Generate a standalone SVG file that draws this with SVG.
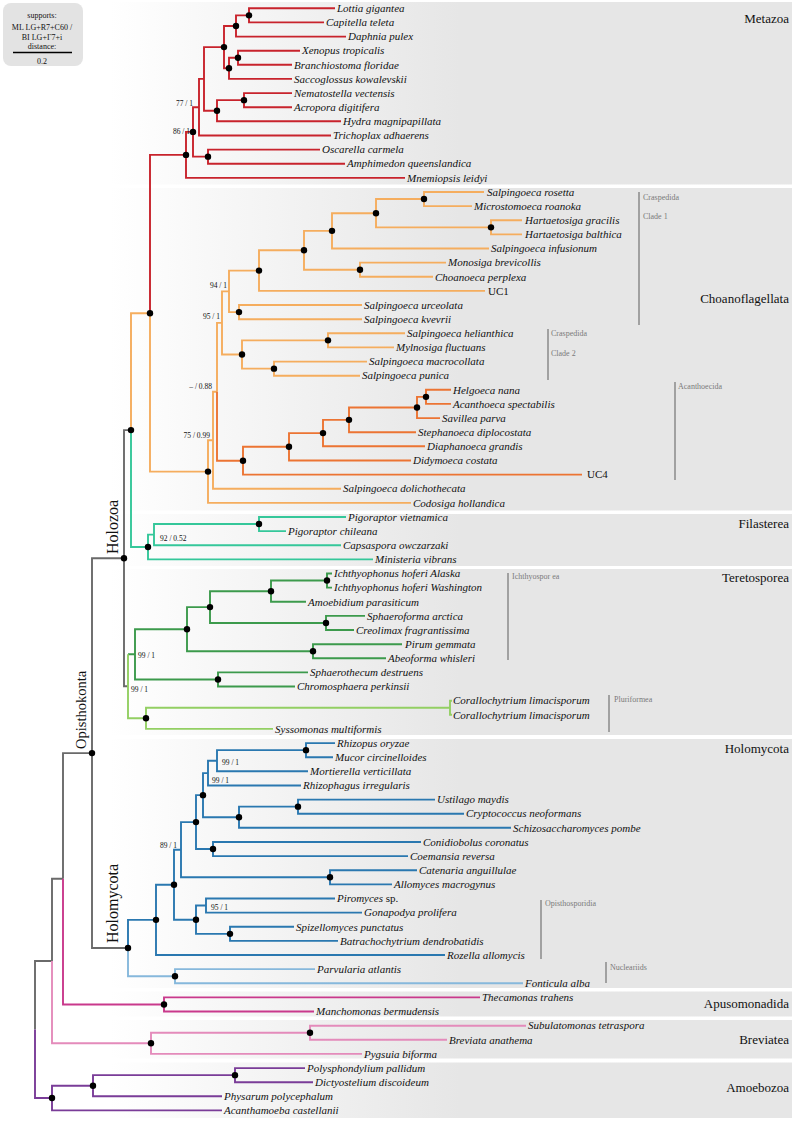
<svg xmlns="http://www.w3.org/2000/svg" width="795" height="1122" viewBox="0 0 795 1122">
<defs>
<linearGradient id="bg" gradientUnits="userSpaceOnUse" x1="110" y1="0" x2="460" y2="0">
<stop offset="0" stop-color="#ffffff"/>
<stop offset="1" stop-color="#e6e6e6"/>
</linearGradient>
</defs>
<style>
.pn{fill:url(#bg)}
.br{fill:none;stroke-width:1.9;stroke-linejoin:miter}
.red{stroke:#c8232c}.or{stroke:#f5ad5e}.dor{stroke:#ec7433}.teal{stroke:#35c79a}
.gry{stroke:#6a6a6a}.dg{stroke:#3c9a4c}.lg{stroke:#93cf63}.blu{stroke:#2a78b0}
.lbl{stroke:#86b8dc}.mag{stroke:#c9398c}.pk{stroke:#e48bbb}.pur{stroke:#7a3c98}
.dot{fill:#000}
text{font-family:"Liberation Serif","Times New Roman",serif;fill:#111}
.tip{font-size:11px;font-style:italic}
.up{font-style:normal}
.sup{font-size:7.5px;fill:#333}
.cl{font-size:13px;text-anchor:end}
.big{font-size:16px}
.bar{stroke:#8a8a8a;stroke-width:1.5}
.bl{font-size:8px;fill:#7a7a7a}
.lg1{font-size:8px;text-anchor:middle}
</style>
<rect width="795" height="1122" fill="#ffffff"/>
<g id="panels">
<rect class="pn" x="100" y="2" width="692" height="182.5"/>
<rect class="pn" x="100" y="188" width="692" height="322.5"/>
<rect class="pn" x="100" y="514" width="692" height="52"/>
<rect class="pn" x="100" y="569" width="692" height="166"/>
<rect class="pn" x="100" y="739" width="692" height="249"/>
<rect class="pn" x="100" y="991.5" width="692" height="25"/>
<rect class="pn" x="100" y="1020" width="692" height="38.5"/>
<rect class="pn" x="100" y="1062.5" width="692" height="55.5"/>
</g>
<g id="legend">
<rect x="3" y="3" width="80" height="63" rx="8" fill="#e3e3e3"/>
<text class="lg1" x="42" y="18">supports:</text>
<text class="lg1" x="42" y="30">ML LG+R7+C60 /</text>
<text class="lg1" x="42" y="39.5">BI LG+Γ7+i</text>
<text class="lg1" x="42" y="48.5">distance:</text>
<line x1="13" y1="52.5" x2="72" y2="52.5" stroke="#000" stroke-width="1.5"/>
<text class="lg1" x="42" y="64">0.2</text>
</g>
<g id="connectors">
<path class="br red" d="M186 154.9H150V313.25 M193 131.9H186V177.9H405 M199 107.2H193V156.65H208 M320 149.6H208V163.7H345 M204 78.9H199V135.5H331 M224 47.1H204V110.7H217 M244 100.15H217V121.3H341 M292 93.1H244V107.2H292 M236 25.98H224V68.3H229 M249 15.35H236V36.6H346 M335 8.3H249V22.4H324 M238 57.75H229V78.9H292 M300 50.7H238V64.8H292"/>
<path class="br or" d="M150 313.25V471.6H208 M150 313.25H131V430.1 M213 440.25H208V502.9H411 M217 391.8H213V488.7H341 M222 322.9H217V391.8 M229 291.35H222V354.5H242 M328 340.35H242V368.65H274 M405 333.3H328V347.4H394 M367 361.6H274V375.7H360 M259 270.6H229V312.1H239 M362 305H239V319.2H362 M304 250.3H259V290.9H485 M332 230.85H304V269.7H360 M446 262.6H360V276.8H433 M376 213.2H332V248.5H489 M424 199.05H376V227.35H491 M484 192H424V206.1H472 M522 220.3H491V234.4H522"/>
<path class="br dor" d="M217 391.8V460.7H243 M289 446.8H243V474.6H582 M323 433.1H289V460.5H411 M349 419.85H323V446.3H425 M417 407.5H349V432.2H416 M426 396.85H417V418.1H440 M451 389.8H426V403.9H451"/>
<path class="br teal" d="M131 430.1V547H148 M154 534.6H148V559.4H373 M259 524.05H154V545.2H341 M346 517H259V531.1H286"/>
<path class="br gry" d="M131 430.1H124V686.3H128 M124 558.2H92V948H128 M92 753.1H63V878.8 M63 878.8H52V961.05 M52 961.05H35V1029.55"/>
<path class="br dg" d="M128 654.3H135 M187 629.2H135V679.45H218 M210 607.1H187V651.25H313 M271 591.2H210V622.95H326 M327 580.55H271V601.8H306 M332 573.5H327V587.6H332 M365 615.9H326V630H354 M402 644.2H313V658.3H386 M308 672.4H218V686.5H295"/>
<path class="br lg" d="M128 654.3V718.3H146 M450 707.75H146V728.9H273 M452 700.7H450V714.8H452"/>
<path class="br blu" d="M128 948V919.85H156 M174 884.7H156V955H445 M181 849.7H174V919.7H196 M196 822.1H181V877.3H330 M203 795.15H196V849.05H213 M208 773.1H203V817.2H239 M217 760.7H208V785.5H301 M306 750.15H217V771.3H308 M335 743.1H306V757.2H333 M298 806.65H239V827.8H511 M435 799.6H298V813.7H464 M421 842H213V856.1H408 M417 870.2H330V884.4H392 M206 905.55H196V933.85H230 M335 898.5H206V912.6H362 M294 926.8H230V940.9H338"/>
<path class="br lbl" d="M128 948V976.2H175 M315 969.1H175V983.3H523"/>
<path class="br mag" d="M63 878.8V1004.45H164 M480 997.4H164V1011.5H314"/>
<path class="br pk" d="M52 961.05V1043.3H151 M310 1032.75H151V1053.9H362 M526 1025.7H310V1039.8H447"/>
<path class="br pur" d="M35 1029.55V1098.05H52 M93 1085.7H52V1110.4H222 M235 1075.15H93V1096.3H222 M305 1068.1H235V1082.2H313"/>
</g>
<g id="internal-nodes" class="dot">
<circle id="n-LC" cx="249" cy="15.35" r="3.2"/>
<circle id="n-LCD" cx="236" cy="25.98" r="3.2"/>
<circle id="n-Bil" cx="224" cy="47.1" r="3.2"/>
<circle id="n-XB" cx="238" cy="57.75" r="3.2"/>
<circle id="n-Deut" cx="229" cy="68.3" r="3.2"/>
<circle id="n-NA" cx="244" cy="100.15" r="3.2"/>
<circle id="n-Cni" cx="217" cy="110.7" r="3.2"/>
<circle id="n-M2" cx="193" cy="131.9" r="3.2"/>
<circle id="n-Met" cx="186" cy="154.9" r="3.2"/>
<circle id="n-Sp" cx="208" cy="156.65" r="3.2"/>
<circle id="n-Choanozoa" cx="150" cy="313.25" r="3.2"/>
<circle id="n-RM" cx="424" cy="199.05" r="3.2"/>
<circle id="n-H" cx="491" cy="227.35" r="3.2"/>
<circle id="n-RMH" cx="376" cy="213.2" r="3.2"/>
<circle id="n-A" cx="332" cy="230.85" r="3.2"/>
<circle id="n-MC" cx="360" cy="269.7" r="3.2"/>
<circle id="n-B" cx="304" cy="250.3" r="3.2"/>
<circle id="n-C" cx="259" cy="270.6" r="3.2"/>
<circle id="n-UK" cx="239" cy="312.1" r="3.2"/>
<circle id="n-HM" cx="328" cy="340.35" r="3.2"/>
<circle id="n-MP" cx="274" cy="368.65" r="3.2"/>
<circle id="n-CL2" cx="242" cy="354.5" r="3.2"/>
<circle id="n-HA" cx="426" cy="396.85" r="3.2"/>
<circle id="n-S" cx="417" cy="407.5" r="3.2"/>
<circle id="n-St" cx="349" cy="419.85" r="3.2"/>
<circle id="n-D" cx="323" cy="433.1" r="3.2"/>
<circle id="n-Di" cx="289" cy="446.8" r="3.2"/>
<circle id="n-Ac" cx="243" cy="460.7" r="3.2"/>
<circle id="n-Cho" cx="208" cy="471.6" r="3.2"/>
<circle id="n-HolU" cx="131" cy="430.1" r="3.2"/>
<circle id="n-Pig" cx="259" cy="524.05" r="3.2"/>
<circle id="n-Fil" cx="148" cy="547" r="3.2"/>
<circle id="n-Holozoa" cx="124" cy="558.2" r="3.2"/>
<circle id="n-Ich" cx="327" cy="580.55" r="3.2"/>
<circle id="n-IA" cx="271" cy="591.2" r="3.2"/>
<circle id="n-SC" cx="326" cy="622.95" r="3.2"/>
<circle id="n-ISC" cx="210" cy="607.1" r="3.2"/>
<circle id="n-PA" cx="313" cy="651.25" r="3.2"/>
<circle id="n-I2" cx="187" cy="629.2" r="3.2"/>
<circle id="n-SCh" cx="218" cy="679.45" r="3.2"/>
<circle id="n-Plu" cx="146" cy="718.3" r="3.2"/>
<circle id="n-Opis" cx="92" cy="753.1" r="3.2"/>
<circle id="n-RM2" cx="306" cy="750.15" r="3.2"/>
<circle id="n-UC" cx="298" cy="806.65" r="3.2"/>
<circle id="n-Dik" cx="239" cy="817.2" r="3.2"/>
<circle id="n-F1" cx="203" cy="795.15" r="3.2"/>
<circle id="n-CC" cx="213" cy="849.05" r="3.2"/>
<circle id="n-F2" cx="196" cy="822.1" r="3.2"/>
<circle id="n-CA" cx="330" cy="877.3" r="3.2"/>
<circle id="n-SB" cx="230" cy="933.85" r="3.2"/>
<circle id="n-Chy" cx="196" cy="919.7" r="3.2"/>
<circle id="n-F3" cx="174" cy="884.7" r="3.2"/>
<circle id="n-Fungi" cx="156" cy="919.85" r="3.2"/>
<circle id="n-Nuc" cx="175" cy="976.2" r="3.2"/>
<circle id="n-Holomycota" cx="128" cy="948" r="3.2"/>
<circle id="n-Apu" cx="164" cy="1004.45" r="3.2"/>
<circle id="n-SBr" cx="310" cy="1032.75" r="3.2"/>
<circle id="n-Brev" cx="151" cy="1043.3" r="3.2"/>
<circle id="n-PD" cx="235" cy="1075.15" r="3.2"/>
<circle id="n-Myc" cx="93" cy="1085.7" r="3.2"/>
<circle id="n-Amo" cx="52" cy="1098.05" r="3.2"/>
</g>
<g id="supports" class="sup">
<text x="193" y="105.5" text-anchor="end">77 / 1</text>
<text x="190" y="133.5" text-anchor="end">86 / 1</text>
<text x="227" y="288" text-anchor="end">94 / 1</text>
<text x="220" y="319" text-anchor="end">95 / 1</text>
<text x="212" y="389" text-anchor="end">– / 0.88</text>
<text x="210" y="438" text-anchor="end">75 / 0.99</text>
<text x="160" y="540.5">92 / 0.52</text>
<text x="138" y="658">99 / 1</text>
<text x="131" y="692">99 / 1</text>
<text x="222" y="764.5">99 / 1</text>
<text x="212" y="783">99 / 1</text>
<text x="177" y="847.5" text-anchor="end">89 / 1</text>
<text x="211" y="910">95 / 1</text>
</g>
<g id="tips" class="tip">
<g id="t-lottia"><text x="337" y="12">Lottia gigantea</text></g>
<g id="t-capitella"><text x="326" y="26.1">Capitella teleta</text></g>
<g id="t-daphnia"><text x="348" y="40.3">Daphnia pulex</text></g>
<g id="t-xenopus"><text x="302" y="54.4">Xenopus tropicalis</text></g>
<g id="t-branchiostoma"><text x="294" y="68.5">Branchiostoma floridae</text></g>
<g id="t-saccoglossus"><text x="294" y="82.6">Saccoglossus kowalevskii</text></g>
<g id="t-nematostella"><text x="294" y="96.8">Nematostella vectensis</text></g>
<g id="t-acropora"><text x="294" y="110.9">Acropora digitifera</text></g>
<g id="t-hydra"><text x="343" y="125">Hydra magnipapillata</text></g>
<g id="t-trichoplax"><text x="333" y="139.2">Trichoplax adhaerens</text></g>
<g id="t-oscarella"><text x="322" y="153.3">Oscarella carmela</text></g>
<g id="t-amphimedon"><text x="347" y="167.4">Amphimedon queenslandica</text></g>
<g id="t-mnemiopsis"><text x="407" y="181.6">Mnemiopsis leidyi</text></g>
<g id="t-rosetta"><text x="487" y="195.7">Salpingoeca rosetta</text></g>
<g id="t-microstomoeca"><text x="474" y="209.8">Microstomoeca roanoka</text></g>
<g id="t-gracilis"><text x="525" y="224">Hartaetosiga gracilis</text></g>
<g id="t-balthica"><text x="525" y="238.1">Hartaetosiga balthica</text></g>
<g id="t-infusionum"><text x="491" y="252.2">Salpingoeca infusionum</text></g>
<g id="t-monosiga"><text x="448" y="266.3">Monosiga brevicollis</text></g>
<g id="t-choanoeca"><text x="435" y="280.5">Choanoeca perplexa</text></g>
<g id="t-uc1"><text class="up" x="488" y="294.6">UC1</text></g>
<g id="t-urceolata"><text x="364" y="308.7">Salpingoeca urceolata</text></g>
<g id="t-kvevrii"><text x="364" y="322.9">Salpingoeca kvevrii</text></g>
<g id="t-helianthica"><text x="407" y="337">Salpingoeca helianthica</text></g>
<g id="t-mylnosiga"><text x="396" y="351.1">Mylnosiga fluctuans</text></g>
<g id="t-macrocollata"><text x="369" y="365.3">Salpingoeca macrocollata</text></g>
<g id="t-punica"><text x="362" y="379.4">Salpingoeca punica</text></g>
<g id="t-helgoeca"><text x="453" y="393.5">Helgoeca nana</text></g>
<g id="t-acanthoeca"><text x="453" y="407.6">Acanthoeca spectabilis</text></g>
<g id="t-savillea"><text x="442" y="421.8">Savillea parva</text></g>
<g id="t-stephanoeca"><text x="418" y="435.9">Stephanoeca diplocostata</text></g>
<g id="t-diaphanoeca"><text x="427" y="450">Diaphanoeca grandis</text></g>
<g id="t-didymoeca"><text x="413" y="464.2">Didymoeca costata</text></g>
<g id="t-uc4"><text class="up" x="587" y="478.3">UC4</text></g>
<g id="t-dolichothecata"><text x="343" y="492.4">Salpingoeca dolichothecata</text></g>
<g id="t-codosiga"><text x="413" y="506.6">Codosiga hollandica</text></g>
<g id="t-pigv"><text x="348" y="520.7">Pigoraptor vietnamica</text></g>
<g id="t-pigc"><text x="288" y="534.8">Pigoraptor chileana</text></g>
<g id="t-capsaspora"><text x="343" y="548.9">Capsaspora owczarzaki</text></g>
<g id="t-ministeria"><text x="375" y="563.1">Ministeria vibrans</text></g>
<g id="t-ichA"><text x="334" y="577.2">Ichthyophonus hoferi Alaska</text></g>
<g id="t-ichW"><text x="334" y="591.3">Ichthyophonus hoferi Washington</text></g>
<g id="t-amoebidium"><text x="308" y="605.5">Amoebidium parasiticum</text></g>
<g id="t-sphaeroforma"><text x="367" y="619.6">Sphaeroforma arctica</text></g>
<g id="t-creolimax"><text x="356" y="633.7">Creolimax fragrantissima</text></g>
<g id="t-pirum"><text x="405" y="647.9">Pirum gemmata</text></g>
<g id="t-abeoforma"><text x="388" y="662">Abeoforma whisleri</text></g>
<g id="t-sphaerothecum"><text x="310" y="676.1">Sphaerothecum destruens</text></g>
<g id="t-chromosphaera"><text x="297" y="690.2">Chromosphaera perkinsii</text></g>
<g id="t-coral1"><text x="453" y="704.4">Corallochytrium limacisporum</text></g>
<g id="t-coral2"><text x="453" y="718.5">Corallochytrium limacisporum</text></g>
<g id="t-syssomonas"><text x="275" y="732.6">Syssomonas multiformis</text></g>
<g id="t-rhizopus"><text x="337" y="746.8">Rhizopus oryzae</text></g>
<g id="t-mucor"><text x="335" y="760.9">Mucor circinelloides</text></g>
<g id="t-mortierella"><text x="310" y="775">Mortierella verticillata</text></g>
<g id="t-rhizophagus"><text x="303" y="789.2">Rhizophagus irregularis</text></g>
<g id="t-ustilago"><text x="437" y="803.3">Ustilago maydis</text></g>
<g id="t-cryptococcus"><text x="466" y="817.4">Cryptococcus neoformans</text></g>
<g id="t-schizo"><text x="513" y="831.5">Schizosaccharomyces pombe</text></g>
<g id="t-conidiobolus"><text x="423" y="845.7">Conidiobolus coronatus</text></g>
<g id="t-coemansia"><text x="410" y="859.8">Coemansia reversa</text></g>
<g id="t-catenaria"><text x="419" y="873.9">Catenaria anguillulae</text></g>
<g id="t-allomyces"><text x="394" y="888.1">Allomyces macrogynus</text></g>
<g id="t-piromyces"><text x="337" y="902.2">Piromyces <tspan class="up">sp.</tspan></text></g>
<g id="t-gonapodya"><text x="364" y="916.3">Gonapodya prolifera</text></g>
<g id="t-spizellomyces"><text x="296" y="930.5">Spizellomyces punctatus</text></g>
<g id="t-batrachochytrium"><text x="340" y="944.6">Batrachochytrium dendrobatidis</text></g>
<g id="t-rozella"><text x="447" y="958.7">Rozella allomycis</text></g>
<g id="t-parvularia"><text x="317" y="972.8">Parvularia atlantis</text></g>
<g id="t-fonticula"><text x="525" y="987">Fonticula alba</text></g>
<g id="t-thecamonas"><text x="482" y="1001.1">Thecamonas trahens</text></g>
<g id="t-manchomonas"><text x="316" y="1015.2">Manchomonas bermudensis</text></g>
<g id="t-subulatomonas"><text x="528" y="1029.4">Subulatomonas tetraspora</text></g>
<g id="t-breviata"><text x="449" y="1043.5">Breviata anathema</text></g>
<g id="t-pygsuia"><text x="364" y="1057.6">Pygsuia biforma</text></g>
<g id="t-polysphondylium"><text x="307" y="1071.8">Polysphondylium pallidum</text></g>
<g id="t-dictyostelium"><text x="315" y="1085.9">Dictyostelium discoideum</text></g>
<g id="t-physarum"><text x="224" y="1100">Physarum polycephalum</text></g>
<g id="t-acanthamoeba"><text x="224" y="1114.1">Acanthamoeba castellanii</text></g>
</g>
<g id="bars">
<line class="bar" x1="639" y1="192" x2="639" y2="325"/>
<text class="bl" x="643" y="200">Craspedida</text>
<text class="bl" x="643" y="219">Clade 1</text>
<line class="bar" x1="548" y1="329" x2="548" y2="380"/>
<text class="bl" x="551" y="336">Craspedida</text>
<text class="bl" x="551" y="355.5">Clade 2</text>
<line class="bar" x1="675" y1="382" x2="675" y2="480"/>
<text class="bl" x="678" y="388.5">Acanthoecida</text>
<line class="bar" x1="508" y1="573" x2="508" y2="660"/>
<text class="bl" x="512" y="578.5">Ichthyospor ea</text>
<line class="bar" x1="609" y1="695" x2="609" y2="732"/>
<text class="bl" x="614" y="702">Pluriformea</text>
<line class="bar" x1="541" y1="900" x2="541" y2="959"/>
<text class="bl" x="545" y="906">Opisthosporidia</text>
<line class="bar" x1="606" y1="962" x2="606" y2="983"/>
<text class="bl" x="610" y="969.5">Nucleariids</text>
</g>
<g id="clade-labels">
<text class="cl" x="789" y="23">Metazoa</text>
<text class="cl" x="789" y="303">Choanoflagellata</text>
<text class="cl" x="789" y="528">Filasterea</text>
<text class="cl" x="789" y="582">Teretosporea</text>
<text class="cl" x="789" y="753">Holomycota</text>
<text class="cl" x="789" y="1008">Apusomonadida</text>
<text class="cl" x="789" y="1044">Breviatea</text>
<text class="cl" x="789" y="1092">Amoebozoa</text>
<text class="big" transform="translate(118,554) rotate(-90)">Holozoa</text>
<text class="big" style="font-size:14.5px" transform="translate(86,749) rotate(-90)">Opisthokonta</text>
<text class="big" transform="translate(118,943) rotate(-90)">Holomycota</text>
</g>
</svg>
